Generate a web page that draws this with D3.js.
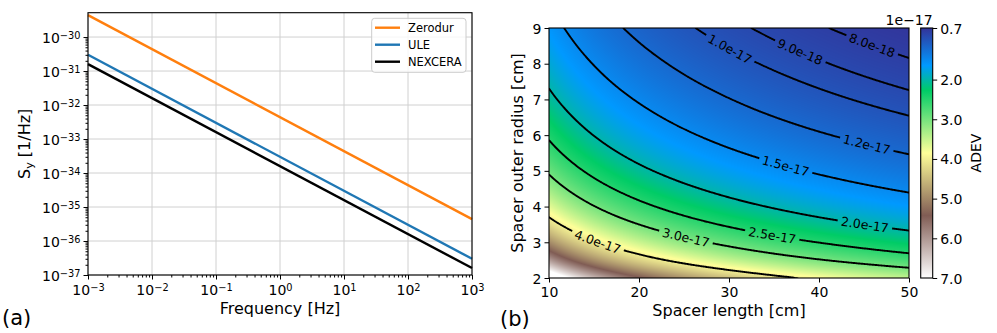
<!DOCTYPE html>
<html>
<head>
<meta charset="utf-8">
<script src="https://cdn.jsdelivr.net/npm/d3@7"></script>
<style>
  body { margin: 0; background: #fff; }
  svg { font-family: 'DejaVu Sans', sans-serif; }
</style>
</head>
<body>
<div class="chart"></div>
<script>
// (a) S_y of the three spacer materials, read at both ends of the frequency span
const freqEnds = [1e-3, 1e3]
const materials = ['Zerodur', 'ULE', 'NEXCERA']
const zerodurSy = [4.4e-30, 4.4e-36]
const uleSy = [3.0e-31, 3.0e-37]
const nexceraSy = [1.6e-31, 1.6e-37]
const materialColors = ['#ff7f0e', '#1f77b4', '#000000']
const freqTicks = [1e-3, 1e-2, 1e-1, 1e0, 1e1, 1e2, 1e3]
const syTicks = [1e-37, 1e-36, 1e-35, 1e-34, 1e-33, 1e-32, 1e-31, 1e-30]

// (b) ADEV in units of 1e-17, rows = outer radius, columns = spacer length
const spacerLength = [10, 20, 30, 40, 50]
const outerRadius = [2, 2.5, 3, 3.5, 4, 4.5, 5, 5.5, 6, 6.5, 7, 7.5, 8, 8.5, 9]
const adev = [
  [7.759, 5.486, 4.479, 3.879, 3.470],
  [6.058, 4.284, 3.498, 3.029, 2.709],
  [4.985, 3.525, 2.878, 2.492, 2.229],
  [4.241, 2.999, 2.448, 2.120, 1.897],
  [3.693, 2.611, 2.132, 1.846, 1.651],
  [3.272, 2.314, 1.889, 1.636, 1.463],
  [2.938, 2.077, 1.696, 1.469, 1.314],
  [2.666, 1.885, 1.539, 1.333, 1.192],
  [2.441, 1.726, 1.409, 1.220, 1.092],
  [2.251, 1.592, 1.299, 1.125, 1.007],
  [2.088, 1.477, 1.206, 1.044, 0.934],
  [1.948, 1.377, 1.125, 0.974, 0.871],
  [1.825, 1.291, 1.054, 0.913, 0.816],
  [1.717, 1.214, 0.991, 0.859, 0.768],
  [1.621, 1.146, 0.936, 0.811, 0.725]
]
const contourLevels = [0.8, 0.9, 1.0, 1.2, 1.5, 2.0, 2.5, 3.0, 4.0]
const lengthTicks = [10, 20, 30, 40, 50]
const radiusTicks = [2, 3, 4, 5, 6, 7, 8, 9]
const cbarTicks = [0.7, 2, 3, 4, 5, 6, 7]
const cbarRange = [0.7, 7.0]

// spacer length where each contour label sits (same order as contourLevels)
const labelAt = [45.9, 37.9, 30.1, 45.3, 36.3, 45.1, 34.8, 25.2, 15.4]

// matplotlib "terrain"
const terrainStops = [0, 0.15, 0.25, 0.5, 0.75, 1]
const terrainColors = ['rgb(51,51,153)', 'rgb(0,153,255)', 'rgb(0,204,102)',
  'rgb(255,255,153)', 'rgb(128,92,84)', 'rgb(255,255,255)']

const svg = d3.select('.chart')
  .append('svg')
  .attr('width', 997)
  .attr('height', 333)

const tickFont = 14
const labelFont = 16

function supTen(sel) {
  sel.each(function (d) {
    const t = d3.select(this).text(null)
    t.append('tspan').text('10')
    t.append('tspan')
      .attr('dy', '-0.45em')
      .attr('font-size', '0.7em')
      .text(String(Math.round(Math.log10(d))).replace('-', '\u2212'))
  })
}

function minorsOf(majors) {
  const out = []
  majors.slice(0, -1).forEach(m => { for (let k = 2; k < 10; k++) out.push(m * k) })
  return out
}

// ---------------- panel (a)
const ax = { left: 88, right: 472, top: 12.7, bottom: 275 }
const xA = d3.scaleLog().domain([1e-3, 1e3]).range([ax.left, ax.right])
const yA = d3.scaleLog().domain([1e-37, 5.2e-30]).range([ax.bottom, ax.top])

const gA = svg.append('g')

gA.append('g').selectAll('line')
  .data(freqTicks)
  .join('line')
  .attr('x1', d => xA(d)).attr('x2', d => xA(d))
  .attr('y1', ax.top).attr('y2', ax.bottom)
  .attr('stroke', '#d0d0d0')
gA.append('g').selectAll('line')
  .data(syTicks)
  .join('line')
  .attr('y1', d => yA(d)).attr('y2', d => yA(d))
  .attr('x1', ax.left).attr('x2', ax.right)
  .attr('stroke', '#d0d0d0')

const series = [zerodurSy, uleSy, nexceraSy]
const lineA = d3.line().x(d => xA(d[0])).y(d => yA(d[1]))
gA.append('g').selectAll('path')
  .data(series)
  .join('path')
  .attr('d', s => lineA(freqEnds.map((f, i) => [f, s[i]])))
  .attr('fill', 'none')
  .attr('stroke', (d, i) => materialColors[i])
  .attr('stroke-width', 2.4)

gA.append('rect')
  .attr('x', ax.left).attr('y', ax.top)
  .attr('width', ax.right - ax.left).attr('height', ax.bottom - ax.top)
  .attr('fill', 'none').attr('stroke', '#000').attr('stroke-width', 1.1)

// x axis
gA.append('g')
  .attr('transform', `translate(0, ${ax.bottom})`)
  .call(d3.axisBottom(xA).tickValues(minorsOf(freqTicks)).tickSize(2.5).tickFormat(''))
  .call(g => g.select('.domain').remove())
const xAxisA = gA.append('g')
  .attr('transform', `translate(0, ${ax.bottom})`)
  .call(d3.axisBottom(xA).tickValues(freqTicks).tickSize(4.5).tickPadding(3))
  .call(g => g.select('.domain').remove())
xAxisA.selectAll('text')
  .attr('y', 20).attr('dy', 0)
  .attr('font-size', tickFont).attr('font-family', 'DejaVu Sans')
  .call(supTen)

// y axis
gA.append('g')
  .attr('transform', `translate(${ax.left}, 0)`)
  .call(d3.axisLeft(yA).tickValues(minorsOf(syTicks)).tickSize(2.5).tickFormat(''))
  .call(g => g.select('.domain').remove())
const yAxisA = gA.append('g')
  .attr('transform', `translate(${ax.left}, 0)`)
  .call(d3.axisLeft(yA).tickValues(syTicks).tickSize(4.5).tickPadding(3))
  .call(g => g.select('.domain').remove())
yAxisA.selectAll('text')
  .attr('dy', '0.42em')
  .attr('font-size', tickFont).attr('font-family', 'DejaVu Sans')
  .call(supTen)

gA.append('text')
  .attr('x', (ax.left + ax.right) / 2).attr('y', 313.5)
  .attr('text-anchor', 'middle')
  .attr('font-size', labelFont)
  .text('Frequency [Hz]')

const yLabA = gA.append('text')
  .attr('transform', `translate(29.5, ${(ax.top + ax.bottom) / 2}) rotate(-90)`)
  .attr('text-anchor', 'middle')
  .attr('font-size', labelFont)
yLabA.append('tspan').text('S')
yLabA.append('tspan').attr('dy', '0.3em').attr('font-size', '0.7em').text('y')
yLabA.append('tspan').attr('dy', '-0.21em').text(' [1/Hz]')

// legend
const leg = gA.append('g')
leg.append('rect')
  .attr('x', 371.7).attr('y', 18.3)
  .attr('width', 94.3).attr('height', 54)
  .attr('rx', 3)
  .attr('fill', '#fff').attr('fill-opacity', 0.8)
  .attr('stroke', '#cccccc')
const legRows = leg.selectAll('g.row')
  .data(materials)
  .join('g')
  .attr('class', 'row')
  .attr('transform', (d, i) => `translate(375, ${27.7 + i * 17})`)
legRows.append('line')
  .attr('x1', 0).attr('x2', 25)
  .attr('stroke', (d, i) => materialColors[i])
  .attr('stroke-width', 2.4)
legRows.append('text')
  .attr('x', 33).attr('dy', '0.36em')
  .attr('font-size', 11.5)
  .text(d => d)

svg.append('text')
  .attr('x', 2).attr('y', 325)
  .attr('font-size', 21)
  .text('(a)')

// ---------------- panel (b)
const bx = { left: 549, right: 909, top: 28, bottom: 278 }
const xB = d3.scaleLinear().domain([10, 50]).range([bx.left, bx.right])
const yB = d3.scaleLinear().domain([2, 9]).range([bx.bottom, bx.top])

const terrain = d3.scaleLinear()
  .domain(terrainStops.map(t => cbarRange[0] + t * (cbarRange[1] - cbarRange[0])))
  .range(terrainColors)
  .clamp(true)

// smooth lookup in the grid: log-linear along length, cubic along radius
const lnLen = spacerLength.map(Math.log)
const lnGrid = adev.map(row => row.map(Math.log))
const rStep = outerRadius[1] - outerRadius[0]

function alongR(j, R) {
  const n = outerRadius.length
  const u = Math.max(0, Math.min(n - 1, (R - outerRadius[0]) / rStep))
  const k = Math.min(n - 2, Math.floor(u))
  const s = u - k
  const p = i => i < 0 ? 2 * lnGrid[0][j] - lnGrid[1][j]
    : i >= n ? 2 * lnGrid[n - 1][j] - lnGrid[n - 2][j]
    : lnGrid[i][j]
  const p0 = p(k - 1), p1 = p(k), p2 = p(k + 1), p3 = p(k + 2)
  return 0.5 * (2 * p1 + (p2 - p0) * s + (2 * p0 - 5 * p1 + 4 * p2 - p3) * s * s +
    (3 * p1 - p0 - 3 * p2 + p3) * s * s * s)
}

function field(L, R) {
  const v = Math.log(Math.max(spacerLength[0], Math.min(spacerLength[spacerLength.length - 1], L)))
  const j = Math.max(0, Math.min(lnLen.length - 2, d3.bisectRight(lnLen, v) - 1))
  const t = (v - lnLen[j]) / (lnLen[j + 1] - lnLen[j])
  return Math.exp((1 - t) * alongR(j, R) + t * alongR(j + 1, R))
}

const pw = bx.right - bx.left
const ph = bx.bottom - bx.top

// color map image
const canvas = document.createElement('canvas')
canvas.width = pw
canvas.height = ph
const ctx = canvas.getContext('2d')
const img = ctx.createImageData(pw, ph)
for (let j = 0; j < ph; j++) {
  for (let i = 0; i < pw; i++) {
    const c = d3.rgb(terrain(field(xB.invert(bx.left + i + 0.5), yB.invert(bx.top + j + 0.5))))
    const o = (j * pw + i) * 4
    img.data[o] = c.r
    img.data[o + 1] = c.g
    img.data[o + 2] = c.b
    img.data[o + 3] = 255
  }
}
ctx.putImageData(img, 0, 0)

const defs = svg.append('defs')
defs.append('clipPath').attr('id', 'plotB')
  .append('rect')
  .attr('x', bx.left).attr('y', bx.top)
  .attr('width', pw).attr('height', ph)

const gB = svg.append('g')
gB.append('image')
  .attr('x', bx.left).attr('y', bx.top)
  .attr('width', pw).attr('height', ph)
  .attr('preserveAspectRatio', 'none')
  .attr('href', canvas.toDataURL())

// contour lines on a grid a little larger than the plot, so edge rings fall outside the clip
const pad = 3
const gw = pw + 2 * pad
const gh = ph + 2 * pad
const values = new Float64Array(gw * gh)
for (let j = 0; j < gh; j++) {
  for (let i = 0; i < gw; i++) {
    values[j * gw + i] = field(xB.invert(bx.left - pad + i + 0.5), yB.invert(bx.top - pad + j + 0.5))
  }
}
const contours = d3.contours().size([gw, gh]).thresholds(contourLevels)(values)

function radiusAt(level, L) {
  let lo = 2, hi = 9
  if (field(L, lo) < level || field(L, hi) > level) return null
  for (let k = 0; k < 50; k++) {
    const mid = (lo + hi) / 2
    if (field(L, mid) > level) lo = mid
    else hi = mid
  }
  return (lo + hi) / 2
}

const labels = contourLevels.map((lev, i) => {
  const L = labelAt[i]
  const R = radiusAt(lev, L)
  const Ra = radiusAt(lev, L - 0.4)
  const Rb = radiusAt(lev, L + 0.4)
  const ang = Math.atan2(yB(Rb) - yB(Ra), xB(L + 0.4) - xB(L - 0.4)) * 180 / Math.PI
  return { text: (lev * 1e-17).toExponential(1), x: xB(L), y: yB(R), ang }
})

const mask = defs.append('mask').attr('id', 'labelGaps')
  .attr('maskUnits', 'userSpaceOnUse')
  .attr('x', 0).attr('y', 0).attr('width', 997).attr('height', 333)
mask.append('rect')
  .attr('x', 0).attr('y', 0).attr('width', 997).attr('height', 333)
  .attr('fill', '#fff')

gB.append('g')
  .attr('clip-path', 'url(#plotB)')
  .append('g')
  .attr('mask', 'url(#labelGaps)')
  .selectAll('path')
  .data(contours)
  .join('path')
  .attr('transform', `translate(${bx.left - pad}, ${bx.top - pad})`)
  .attr('d', d3.geoPath())
  .attr('fill', 'none')
  .attr('stroke', '#000')
  .attr('stroke-width', 1.9)

const labelText = gB.append('g')
  .selectAll('text')
  .data(labels)
  .join('text')
  .attr('transform', d => `translate(${d.x}, ${d.y}) rotate(${d.ang})`)
  .attr('text-anchor', 'middle')
  .attr('dy', '0.36em')
  .attr('font-size', 12.5)
  .text(d => d.text)

labelText.each(function (d) {
  const w = this.getComputedTextLength() + 7
  mask.append('rect')
    .attr('transform', `translate(${d.x}, ${d.y}) rotate(${d.ang})`)
    .attr('x', -w / 2).attr('y', -6)
    .attr('width', w).attr('height', 12)
    .attr('fill', '#000')
})

gB.append('rect')
  .attr('x', bx.left).attr('y', bx.top)
  .attr('width', pw).attr('height', ph)
  .attr('fill', 'none').attr('stroke', '#000').attr('stroke-width', 1.1)

const xAxisB = gB.append('g')
  .attr('transform', `translate(0, ${bx.bottom})`)
  .call(d3.axisBottom(xB).tickValues(lengthTicks).tickFormat(d3.format('d')).tickSize(4.5).tickPadding(3))
  .call(g => g.select('.domain').remove())
xAxisB.selectAll('text')
  .attr('y', 19).attr('dy', 0)
  .attr('font-size', tickFont).attr('font-family', 'DejaVu Sans')

const yAxisB = gB.append('g')
  .attr('transform', `translate(${bx.left}, 0)`)
  .call(d3.axisLeft(yB).tickValues(radiusTicks).tickFormat(d3.format('d')).tickSize(4.5).tickPadding(3))
  .call(g => g.select('.domain').remove())
yAxisB.selectAll('text')
  .attr('dy', '0.36em')
  .attr('font-size', tickFont).attr('font-family', 'DejaVu Sans')

gB.append('text')
  .attr('x', (bx.left + bx.right) / 2).attr('y', 316)
  .attr('text-anchor', 'middle')
  .attr('font-size', labelFont)
  .text('Spacer length [cm]')

gB.append('text')
  .attr('transform', `translate(523, ${(bx.top + bx.bottom) / 2}) rotate(-90)`)
  .attr('text-anchor', 'middle')
  .attr('font-size', labelFont)
  .text('Spacer outer radius [cm]')

// colorbar
const cb = { left: 920.7, width: 12 }
const cbScale = d3.scaleLinear().domain(cbarRange).range([bx.top, bx.bottom])
const grad = defs.append('linearGradient').attr('id', 'terrainGrad')
  .attr('x1', 0).attr('y1', 0).attr('x2', 0).attr('y2', 1)
grad.selectAll('stop')
  .data(terrainStops)
  .join('stop')
  .attr('offset', d => d)
  .attr('stop-color', (d, i) => terrainColors[i])

gB.append('rect')
  .attr('x', cb.left).attr('y', bx.top)
  .attr('width', cb.width).attr('height', ph)
  .attr('fill', 'url(#terrainGrad)')
  .attr('stroke', '#000').attr('stroke-width', 1.1)

const cbAxis = gB.append('g')
  .attr('transform', `translate(${cb.left + cb.width}, 0)`)
  .call(d3.axisRight(cbScale).tickValues(cbarTicks).tickFormat(d3.format('.1f')).tickSize(4.5).tickPadding(3))
  .call(g => g.select('.domain').remove())
cbAxis.selectAll('text')
  .attr('dy', '0.36em')
  .attr('font-size', tickFont).attr('font-family', 'DejaVu Sans')

gB.append('text')
  .attr('x', cb.left + cb.width).attr('y', 25)
  .attr('text-anchor', 'end')
  .attr('font-size', tickFont)
  .text('1e\u221217')

gB.append('text')
  .attr('transform', `translate(980.5, ${(bx.top + bx.bottom) / 2}) rotate(-90)`)
  .attr('text-anchor', 'middle')
  .attr('font-size', 14)
  .text('ADEV')

svg.append('text')
  .attr('x', 500).attr('y', 326)
  .attr('font-size', 21)
  .text('(b)')
</script>
</body>
</html>
